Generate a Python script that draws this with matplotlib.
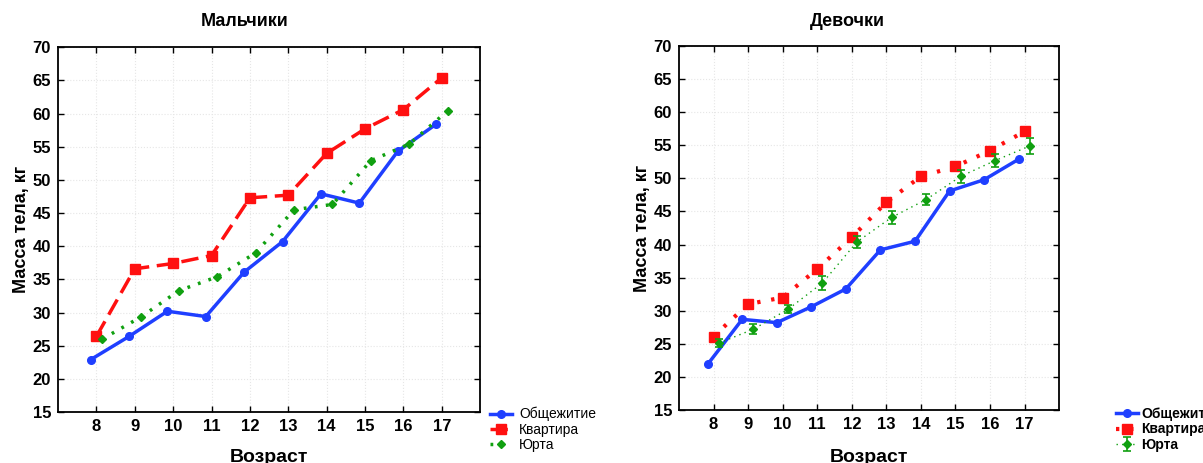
import matplotlib
matplotlib.use("Agg")
import matplotlib.pyplot as plt
import numpy as np

plt.rcParams['font.family'] = ['Liberation Sans', 'DejaVu Sans']

# ================================
# Data
# ================================
ages = [8, 9, 10, 11, 12, 13, 14, 15, 16, 17]
series_names = ["Общежитие", "Квартира", "Юрта"]

boys_dorm = [22.9, 26.4, 30.2, 29.4, 36.1, 40.7, 47.9, 46.5, 54.3, 58.4]
boys_flat = [26.4, 36.6, 37.4, 38.6, 47.3, 47.7, 54.0, 57.7, 60.6, 65.4]
boys_yurt = [26.0, 29.3, 33.3, 35.4, 39.0, 45.5, 46.3, 52.9, 55.4, 60.4]

girls_dorm = [21.9, 28.7, 28.2, 30.6, 33.3, 39.2, 40.5, 48.1, 49.8, 52.9]
girls_flat = [26.1, 31.0, 32.0, 36.3, 41.1, 46.4, 50.3, 51.8, 54.2, 57.1]
girls_yurt = [25.1, 27.2, 30.2, 34.2, 40.4, 44.1, 46.8, 50.3, 52.7, 54.9]
girls_yurt_err = [0.6, 0.75, 0.6, 1.0, 0.9, 1.0, 0.8, 1.0, 1.0, 1.2]

BLUE = "#1f3fff"
RED = "#ff1010"
GREEN = "#10a010"

fig = plt.figure(figsize=(12.03, 4.63), dpi=100)
ax1 = fig.add_axes([0.0482, 0.110, 0.351, 0.788])
ax2 = fig.add_axes([0.5644, 0.1145, 0.316, 0.786])

x = np.array(ages, dtype=float)


def style_axes(ax):
    ax.set_xlim(7, 18)
    ax.set_ylim(15, 70)
    ax.set_xticks(ages)
    ax.set_yticks(np.arange(15, 71, 5))
    ax.grid(True, color="#e6e6e6", linestyle=":", linewidth=0.8)
    ax.set_axisbelow(True)
    ax.tick_params(direction="in", top=True, right=True, length=4,
                   labelsize=12, width=1, pad=5)
    for lab in ax.get_xticklabels() + ax.get_yticklabels():
        lab.set_fontweight("bold")
    for s in ax.spines.values():
        s.set_linewidth(1.3)
    ax.set_ylabel("Масса тела, кг", fontsize=13, fontweight="bold", labelpad=2)


# ================================
# Boys
# ================================
l1, = ax1.plot(x - 0.15, boys_dorm, color=BLUE, lw=2.5, marker="o", ms=5.5,
               label=series_names[0])
l2, = ax1.plot(x, boys_flat, color=RED, lw=2.5, linestyle=(0, (5, 2.2)),
               marker="s", ms=6.5, label=series_names[1])
l3, = ax1.plot(x + 0.15, boys_yurt, color=GREEN, lw=2.5, linestyle=(0, (0.8, 2.4)),
               marker="D", ms=4.5, label=series_names[2])
style_axes(ax1)
fig.text(245 / 1203, 1 - 22 / 463, "Мальчики", ha="center", va="center",
         fontsize=13, fontweight="bold")
fig.text(269 / 1203, 1 - 449 / 463, "Возраст", ha="center", va="top",
         fontsize=14, fontweight="bold")
ax1.legend(handles=[l1, l2, l3], loc="upper left",
           bbox_to_anchor=(490 / 1203, 1 - 407 / 463),
           bbox_transform=fig.transFigure, frameon=False, fontsize=10,
           handlelength=1.6, handletextpad=0.5, labelspacing=0.1,
           borderpad=0, borderaxespad=0)

# ================================
# Girls
# ================================
g1, = ax2.plot(x - 0.17, girls_dorm, color=BLUE, lw=2.5, marker="o", ms=5.5,
               label=series_names[0])
g2, = ax2.plot(x, girls_flat, color=RED, lw=3, linestyle=(0, (0.8, 2.6)),
               marker="s", ms=6.5, label=series_names[1])
g3 = ax2.errorbar(x + 0.15, girls_yurt, yerr=girls_yurt_err, color=GREEN,
                  lw=1, linestyle=(0, (1, 3)), marker="D", ms=4.5,
                  capsize=3, elinewidth=1.2, capthick=1.2, label=series_names[2])
style_axes(ax2)
fig.text(847 / 1203, 1 - 22 / 463, "Девочки", ha="center", va="center",
         fontsize=13, fontweight="bold")
fig.text(869 / 1203, 1 - 449 / 463, "Возраст", ha="center", va="top",
         fontsize=14, fontweight="bold")
ax2.legend(handles=[g1, g2, g3], loc="upper left",
           bbox_to_anchor=(1116 / 1203, 1 - 407 / 463),
           bbox_transform=fig.transFigure, frameon=False,
           prop={"size": 10, "weight": "bold"},
           handlelength=1.6, handletextpad=0.2, labelspacing=0.1,
           borderpad=0, borderaxespad=0)

fig.savefig("out.png", dpi=100)
